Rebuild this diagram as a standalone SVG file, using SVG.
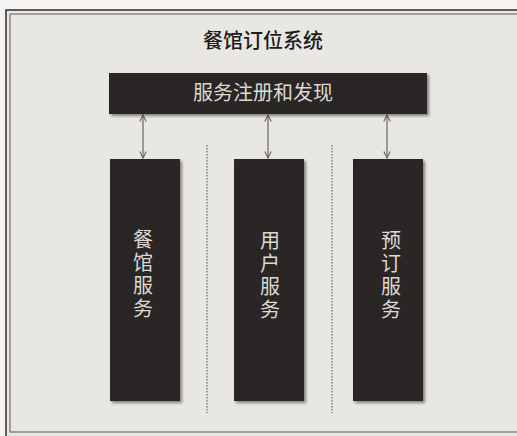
<svg xmlns="http://www.w3.org/2000/svg" width="517" height="436" viewBox="0 0 517 436">
<defs>
<style>
.box{fill:#2b2725;filter:url(#sh)}
.lbl{font-family:"Noto Sans CJK SC","Noto Sans CJK JP",sans-serif;font-size:20px;fill:#dcd8d2;text-anchor:middle}
.vert{writing-mode:vertical-rl;text-orientation:upright;letter-spacing:3px}
.conn{stroke:#6a6561;stroke-width:1.2;fill:none;marker-start:url(#ah);marker-end:url(#ah)}
.sep{stroke:#6a6561;stroke-width:1.2;stroke-dasharray:1.5 1.5}
</style>
<filter id="sh" x="-10%" y="-10%" width="130%" height="130%">
<feDropShadow dx="2" dy="2" stdDeviation="1.5" flood-color="#000" flood-opacity="0.45"/>
</filter>
<marker id="ah" viewBox="0 0 10 10" refX="9" refY="5" markerWidth="8" markerHeight="8" orient="auto-start-reverse" markerUnits="userSpaceOnUse">
<path d="M1,1 L9,5 L1,9" fill="none" stroke="#6a6561" stroke-width="1.4"/>
</marker>
</defs>
<rect width="517" height="436" fill="#f4f3f1"/>
<rect x="6" y="10" width="520" height="430" fill="#e9e7e4" stroke="#2e2b29" stroke-width="1.5"/>
<rect x="10" y="14" width="512" height="418" fill="none" stroke="#5a5652" stroke-width="1"/>
<text x="263" y="48" class="lbl" style="fill:#1e1b19;font-weight:500">餐馆订位系统</text>
<g id="connectors">
<line class="conn" x1="143" y1="115" x2="143" y2="158"/>
<line class="conn" x1="268" y1="115" x2="268" y2="158"/>
<line class="conn" x1="387" y1="115" x2="387" y2="158"/>
<line class="sep" x1="207" y1="145" x2="207" y2="413"/>
<line class="sep" x1="332" y1="145" x2="332" y2="413"/>
</g>
<g id="registry">
<rect class="box" x="109" y="73" width="318" height="41"/>
<text class="lbl" x="263" y="100">服务注册和发现</text>
</g>
<g id="restaurant">
<rect class="box" x="110" y="159" width="70" height="242"/>
<text class="lbl vert" x="143" y="275">餐馆服务</text>
</g>
<g id="user">
<rect class="box" x="234" y="159" width="70" height="242"/>
<text class="lbl vert" x="270" y="276">用户服务</text>
</g>
<g id="booking">
<rect class="box" x="353" y="159" width="70" height="242"/>
<text class="lbl vert" x="391" y="276">预订服务</text>
</g>
</svg>
